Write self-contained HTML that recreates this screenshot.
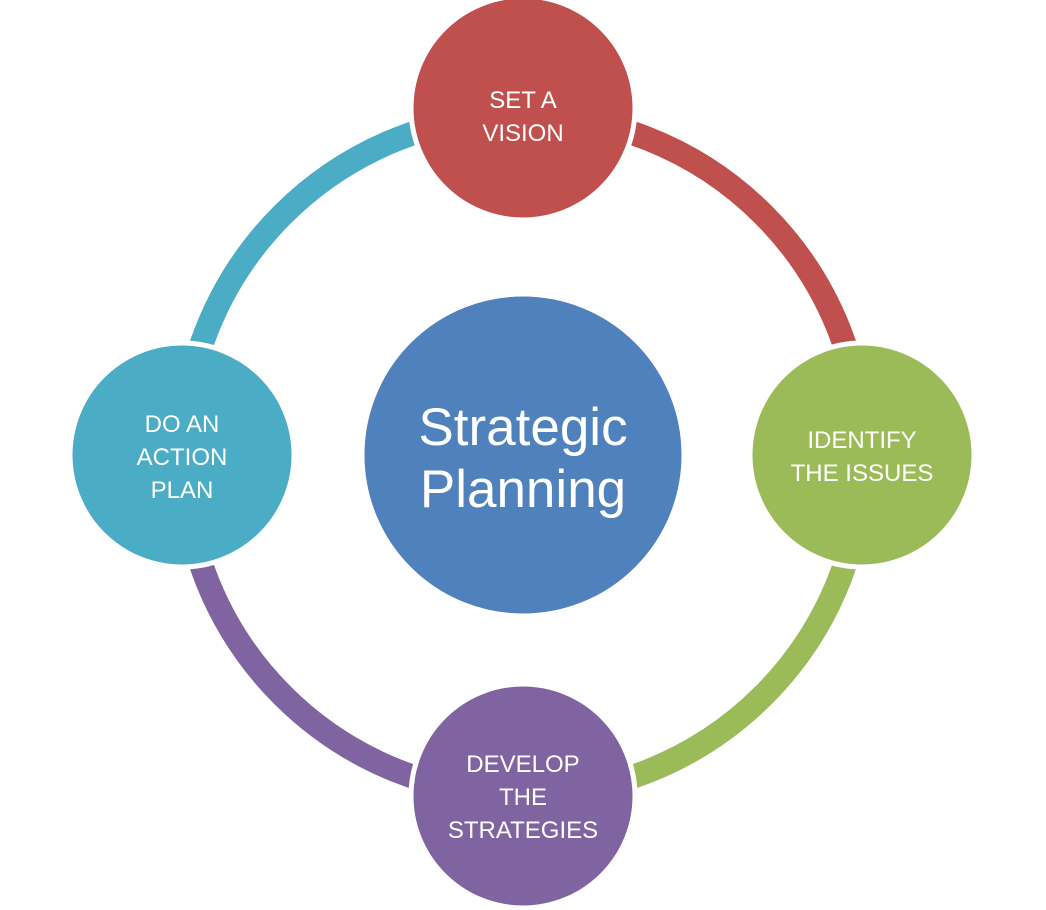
<!DOCTYPE html>
<html><head><style>
html,body{margin:0;padding:0;background:#fff;}
svg{display:block;}
text{font-family:"Liberation Sans",sans-serif;fill:#fff;text-anchor:middle;}
</style></head><body>
<svg width="1046" height="910" viewBox="0 0 1046 910">
<g fill="none" stroke-width="24">
<path d="M523,115 A340,340 0 0 1 863,455" stroke="#C0504D"/>
<path d="M863,455 A340,340 0 0 1 523,795" stroke="#9BBB59"/>
<path d="M523,795 A340,340 0 0 1 183,455" stroke="#8064A2"/>
<path d="M183,455 A340,340 0 0 1 523,115" stroke="#4BACC6"/>
</g>
<g stroke="#fff" stroke-width="5">
<circle cx="523" cy="108" r="112" fill="#C0504D"/>
<circle cx="862" cy="455" r="112" fill="#9BBB59"/>
<circle cx="523" cy="796" r="112" fill="#8064A2"/>
<circle cx="182" cy="455" r="112" fill="#4BACC6"/>
<circle cx="523" cy="455" r="160" fill="#4F81BD" stroke-width="3"/>
</g>
<g font-size="24">
<text x="523" y="108">SET A</text>
<text x="523" y="141">VISION</text>
<text x="862" y="448">IDENTIFY</text>
<text x="862" y="481">THE ISSUES</text>
<text x="523" y="772">DEVELOP</text>
<text x="523" y="805">THE</text>
<text x="523" y="838">STRATEGIES</text>
<text x="182" y="432">DO AN</text>
<text x="182" y="465">ACTION</text>
<text x="182" y="498">PLAN</text>
</g>
<g font-size="53">
<text x="523" y="445">Strategic</text>
<text x="523" y="507">Planning</text>
</g>
</svg>
</body></html>
